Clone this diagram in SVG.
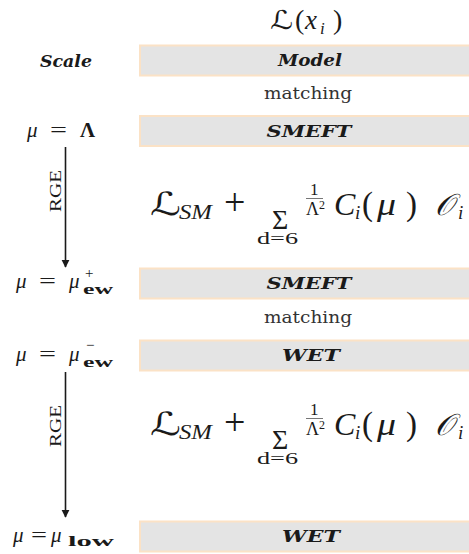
<svg xmlns="http://www.w3.org/2000/svg" width="469" height="554" viewBox="0 0 469 554">
<defs>
<style>
.box{fill:#e4e4e4;stroke:#fbe2c6;stroke-width:2}
.hd{font-family:"DejaVu Serif","Liberation Serif",serif;font-weight:bold;font-style:italic;font-size:17px;fill:#1a1a1a;text-anchor:middle}
.rm{font-family:"DejaVu Serif","Liberation Serif",serif;font-size:16px;fill:#333;text-anchor:middle}
.m{font-family:"Liberation Serif","DejaVu Serif",serif;fill:#1a1a1a}
.it{font-style:italic}
.bf{font-weight:bold}
.sc{font-family:"DejaVu Sans","DejaVu Serif",serif}
.ar{stroke:#1a1a1a;stroke-width:1.6;fill:none}
</style>
<marker id="ah" viewBox="0 0 10 10" refX="9" refY="5" markerWidth="5" markerHeight="6" markerUnits="strokeWidth" orient="auto">
<path d="M0,0 L10,5 L0,10 z" fill="#1a1a1a"/>
</marker>
</defs>

<g id="title">
<text class="m sc" x="270" y="29" font-size="26" textLength="23" lengthAdjust="spacingAndGlyphs">ℒ</text>
<text class="m" x="295" y="29" font-size="28">(</text>
<text class="m it" x="305" y="29" font-size="27">x</text>
<text class="m it" x="320" y="34" font-size="17">i</text>
<text class="m" x="333" y="29" font-size="28">)</text>
</g>

<g id="scale-header">
<text class="hd" x="66" y="67" textLength="52" lengthAdjust="spacingAndGlyphs">Scale</text>
</g>

<g id="model">
<rect class="box" x="140" y="45.5" width="340" height="30"/>
<text class="hd" x="310" y="66" textLength="64" lengthAdjust="spacingAndGlyphs">Model</text>
</g>

<g id="matching1">
<text class="rm" x="308" y="99" textLength="88" lengthAdjust="spacingAndGlyphs">matching</text>
</g>

<g id="smeft1">
<rect class="box" x="140" y="116" width="340" height="30"/>
<text class="hd" x="309" y="137" textLength="85" lengthAdjust="spacingAndGlyphs">SMEFT</text>
</g>

<g id="smeft2">
<rect class="box" x="140" y="268.5" width="340" height="30"/>
<text class="hd" x="309" y="289" textLength="85" lengthAdjust="spacingAndGlyphs">SMEFT</text>
</g>

<g id="matching2">
<text class="rm" x="308" y="323" textLength="88" lengthAdjust="spacingAndGlyphs">matching</text>
</g>

<g id="wet1">
<rect class="box" x="140" y="340.5" width="340" height="30"/>
<text class="hd" x="311" y="361" textLength="58" lengthAdjust="spacingAndGlyphs">WET</text>
</g>

<g id="wet2">
<rect class="box" x="140" y="521.5" width="340" height="30"/>
<text class="hd" x="311" y="542" textLength="58" lengthAdjust="spacingAndGlyphs">WET</text>
</g>

<g id="scale-lambda">
<text class="m it" x="27" y="137" font-size="21">μ</text>
<text class="m" x="50" y="137" font-size="22" textLength="17" lengthAdjust="spacingAndGlyphs">=</text>
<text class="m bf" x="80" y="137" font-size="21">Λ</text>
</g>

<g id="scale-ew-plus">
<text class="m it" x="16" y="288" font-size="21">μ</text>
<text class="m" x="39" y="288" font-size="22" textLength="17" lengthAdjust="spacingAndGlyphs">=</text>
<text class="m it" x="69" y="288" font-size="21">μ</text>
<text class="m bf" x="83" y="294" font-size="15" textLength="30" lengthAdjust="spacingAndGlyphs">ew</text>
<text class="m" x="85" y="278" font-size="15">+</text>
</g>

<g id="scale-ew-minus">
<text class="m it" x="16" y="361" font-size="21">μ</text>
<text class="m" x="39" y="361" font-size="22" textLength="17" lengthAdjust="spacingAndGlyphs">=</text>
<text class="m it" x="69" y="361" font-size="21">μ</text>
<text class="m bf" x="83" y="367" font-size="15" textLength="30" lengthAdjust="spacingAndGlyphs">ew</text>
<text class="m" x="86" y="350" font-size="15">−</text>
</g>

<g id="scale-low">
<text class="m it" x="13" y="542" font-size="21">μ</text>
<text class="m" x="31" y="542" font-size="22" textLength="16" lengthAdjust="spacingAndGlyphs">=</text>
<text class="m it" x="51" y="542" font-size="21">μ</text>
<text class="m bf" x="68" y="546" font-size="15" textLength="46" lengthAdjust="spacingAndGlyphs">low</text>
</g>

<g id="lagrangian1">
<text class="m sc" x="150" y="215" font-size="32" textLength="31" lengthAdjust="spacingAndGlyphs">ℒ</text>
<text class="m it" x="179" y="219" font-size="20" textLength="33" lengthAdjust="spacingAndGlyphs">SM</text>
<text class="m" x="224" y="215" font-size="38">+</text>
<text class="m" x="272" y="229" font-size="28">Σ</text>
<text class="m" x="257" y="244" font-size="16" textLength="41" lengthAdjust="spacingAndGlyphs">d=6</text>
<text class="m" x="310" y="195" font-size="17">1</text>
<line x1="306" y1="198.5" x2="323" y2="198.5" stroke="#1a1a1a" stroke-width="0.6"/>
<text class="m" x="306" y="215" font-size="18">Λ</text>
<text class="m" x="319" y="209" font-size="12">2</text>
<text class="m it" x="334" y="215" font-size="32">C</text>
<text class="m it" x="355" y="219" font-size="19">i</text>
<text class="m" x="362" y="215" font-size="33">(</text>
<text class="m it" x="377" y="215" font-size="31" textLength="19" lengthAdjust="spacingAndGlyphs">μ</text>
<text class="m" x="406" y="215" font-size="33">)</text>
<text class="m sc it" x="435" y="215" font-size="30">𝒪</text>
<text class="m it" x="458" y="219" font-size="19">i</text>
</g>

<g id="lagrangian2">
<text class="m sc" x="150" y="435" font-size="32" textLength="31" lengthAdjust="spacingAndGlyphs">ℒ</text>
<text class="m it" x="179" y="439" font-size="20" textLength="33" lengthAdjust="spacingAndGlyphs">SM</text>
<text class="m" x="224" y="435" font-size="38">+</text>
<text class="m" x="272" y="449" font-size="28">Σ</text>
<text class="m" x="257" y="464" font-size="16" textLength="41" lengthAdjust="spacingAndGlyphs">d=6</text>
<text class="m" x="310" y="415" font-size="17">1</text>
<line x1="306" y1="418.5" x2="323" y2="418.5" stroke="#1a1a1a" stroke-width="0.6"/>
<text class="m" x="306" y="435" font-size="18">Λ</text>
<text class="m" x="319" y="429" font-size="12">2</text>
<text class="m it" x="334" y="435" font-size="32">C</text>
<text class="m it" x="355" y="439" font-size="19">i</text>
<text class="m" x="362" y="435" font-size="33">(</text>
<text class="m it" x="377" y="435" font-size="31" textLength="19" lengthAdjust="spacingAndGlyphs">μ</text>
<text class="m" x="406" y="435" font-size="33">)</text>
<text class="m sc it" x="435" y="435" font-size="30">𝒪</text>
<text class="m it" x="458" y="439" font-size="19">i</text>
</g>

<g id="connectors">
<line class="ar" x1="65.5" y1="147" x2="65.5" y2="267" marker-end="url(#ah)"/>
<line class="ar" x1="65.5" y1="372" x2="65.5" y2="517" marker-end="url(#ah)"/>
<text class="m" transform="translate(61,191) rotate(-90)" font-size="17" text-anchor="middle" textLength="42" lengthAdjust="spacingAndGlyphs">RGE</text>
<text class="m" transform="translate(61,426) rotate(-90)" font-size="17" text-anchor="middle" textLength="42" lengthAdjust="spacingAndGlyphs">RGE</text>
</g>
</svg>
